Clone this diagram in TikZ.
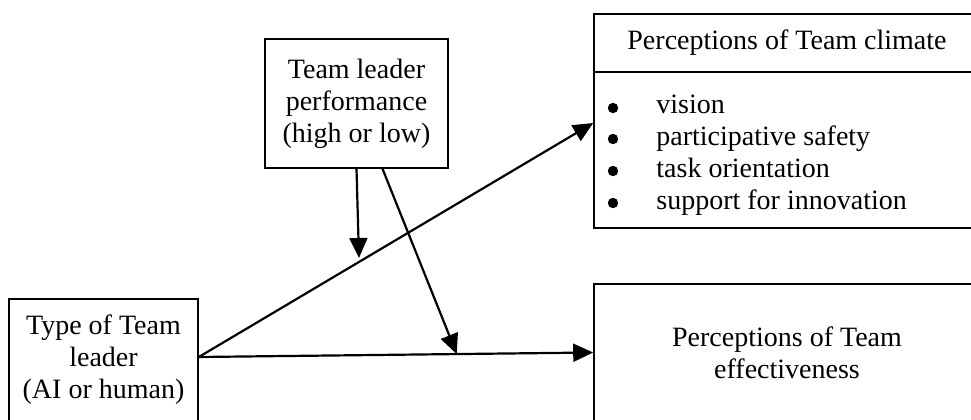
\documentclass[tikz,border=0pt]{standalone}
\usepackage{fontspec}
\setmainfont{Liberation Serif}
\usetikzlibrary{arrows.meta,calc}

\begin{document}
\begin{tikzpicture}[x=0.5pt,y=-0.5pt,
  box/.style={draw=black,line width=0.8pt,inner sep=0pt,align=center,
    font=\fontsize{14}{16}\selectfont},
  link/.style={line width=1.1pt,-{Triangle[length=10pt,width=9pt]}}]
\useasboundingbox (0,0) rectangle (971,419);
\clip (0,0) rectangle (971,419);
\node [box,minimum width=94.5pt,minimum height=61pt] (type) at (103.5,360) {Type of Team\\leader\\(AI or human)};
\node [box,minimum width=91.5pt,minimum height=64.5pt] (perf) at (356.5,103.5) {Team leader\\performance\\(high or low)};
\node [box,minimum width=193pt,minimum height=29pt] (climate) at (787,43) {Perceptions of Team climate};
\node [box,minimum width=193pt,minimum height=78pt] (list) at (787,150) {};
\node [anchor=west,inner sep=0pt,align=left,font=\fontsize{14}{16}\selectfont] (items) at (656,155)
  {vision\\
   participative safety\\
   task orientation\\
   support for innovation};
\foreach \y in {108,139,171,203}
  \fill (613,\y) circle (2.6pt);
\node [box,minimum width=193pt,minimum height=68.5pt] (eff) at (787,352.5) {Perceptions of Team\\effectiveness};
\coordinate (hit1) at (359,258);
\coordinate (hit2) at ($([yshift=1.5pt]type.east)!0.654!(eff.west)$);
\draw [link] ([yshift=1.5pt]type.east) -- ([yshift=13.5pt]list.west);
\draw [link] ([yshift=1.5pt]type.east) -- (eff.west);
\draw [link] (perf.south) -- (hit1);
\draw [link] ([xshift=13pt]perf.south) -- (hit2);
\end{tikzpicture}
\end{document}
